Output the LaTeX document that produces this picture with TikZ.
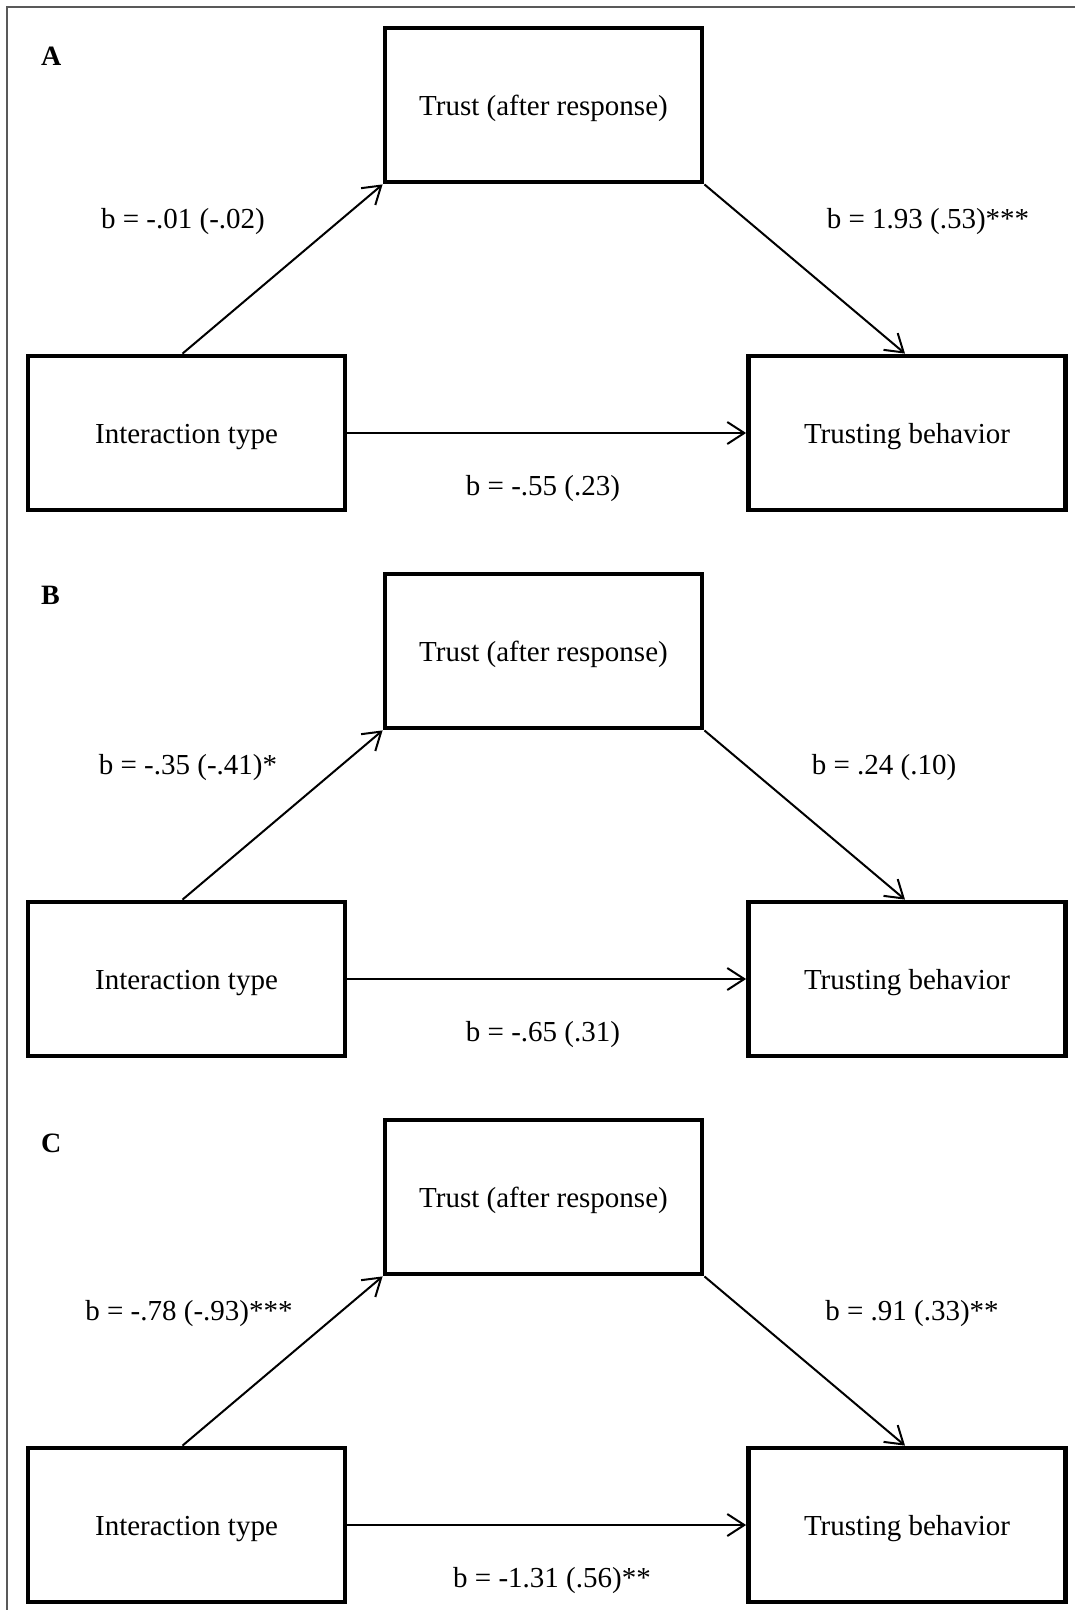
\documentclass[tikz,border=0pt]{standalone}
\usepackage{fontspec}
\setmainfont{Liberation Serif}
\usetikzlibrary{arrows.meta}
\begin{document}
\begin{tikzpicture}[x=1pt,y=-1pt,
  varbox/.style={draw=black,line width=4.8pt,minimum width=317pt,minimum height=154pt,inner sep=0pt,text height=20pt,text depth=0pt,font=\fontsize{29}{34}\selectfont},
  lbl/.style={anchor=base,inner sep=0pt,font=\fontsize{29}{34}\selectfont},
  panel/.style={anchor=base west,inner sep=0pt,font=\fontsize{28}{34}\selectfont\bfseries},
  conn/.style={line width=2pt,-{Straight Barb[length=17pt,width=22pt,line width=2pt]}}]
\useasboundingbox (0,0) rectangle (1075,1610);
\draw[line width=1.5pt,draw=black!65] (7,1610) -- (7,7) -- (1075,7);
% Panel A
\node[panel] (pA) at (41,65) {A};
\node[varbox] (tA) at (543.5,105) {Trust (after response)};
\node[varbox] (iA) at (186.5,433) {Interaction type};
\node[varbox] (bA) at (907,433) {Trusting behavior};
\draw[conn] ([xshift=-4pt]iA.north) -- (tA.south west);
\draw[conn] (tA.south east) -- ([xshift=-2pt]bA.north);
\draw[conn] (iA.east) -- (bA.west);
\node[lbl] (a1) at (183,228) {b = -.01 (-.02)};
\node[lbl] (a2) at (928,228) {b = 1.93 (.53)***};
\node[lbl] (a3) at (543,495) {b = -.55 (.23)};
% Panel B
\node[panel] (pB) at (41,604) {B};
\node[varbox] (tB) at (543.5,651) {Trust (after response)};
\node[varbox] (iB) at (186.5,979) {Interaction type};
\node[varbox] (bB) at (907,979) {Trusting behavior};
\draw[conn] ([xshift=-4pt]iB.north) -- (tB.south west);
\draw[conn] (tB.south east) -- ([xshift=-2pt]bB.north);
\draw[conn] (iB.east) -- (bB.west);
\node[lbl] (b1) at (188,774) {b = -.35 (-.41)*};
\node[lbl] (b2) at (884,774) {b = .24 (.10)};
\node[lbl] (b3) at (543,1041) {b = -.65 (.31)};
% Panel C
\node[panel] (pC) at (41,1152) {C};
\node[varbox] (tC) at (543.5,1197) {Trust (after response)};
\node[varbox] (iC) at (186.5,1525) {Interaction type};
\node[varbox] (bC) at (907,1525) {Trusting behavior};
\draw[conn] ([xshift=-4pt]iC.north) -- (tC.south west);
\draw[conn] (tC.south east) -- ([xshift=-2pt]bC.north);
\draw[conn] (iC.east) -- (bC.west);
\node[lbl] (c1) at (189,1320) {b = -.78 (-.93)***};
\node[lbl] (c2) at (912,1320) {b = .91 (.33)**};
\node[lbl] (c3) at (552,1587) {b = -1.31 (.56)**};
\end{tikzpicture}
\end{document}
